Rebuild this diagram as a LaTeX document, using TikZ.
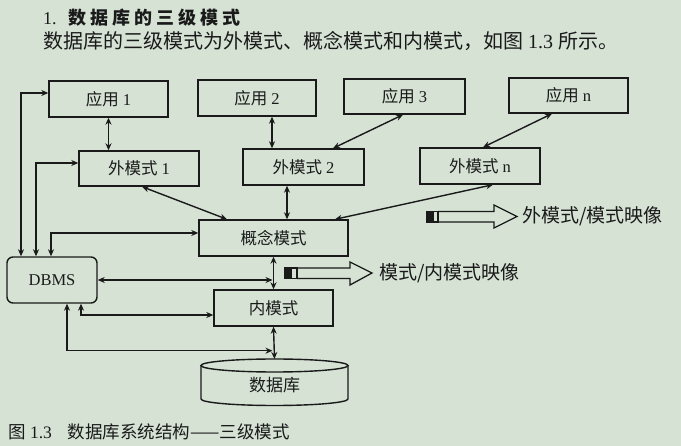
\documentclass[tikz,border=0pt]{standalone}
\usepackage{fontspec}
\setmainfont{Liberation Serif}
\newfontfamily\cjk{Noto Sans CJK SC}
\usetikzlibrary{arrows.meta}
\definecolor{bg}{HTML}{D5E2D4}
\definecolor{ink}{HTML}{1A1A1A}
\newcommand{\ts}{\hspace{4pt}}
\begin{document}
\begin{tikzpicture}[x=1pt,y=-1pt,
  box/.style={draw=ink,line width=1.4pt,inner sep=0pt,minimum height=36pt,minimum width=120pt,text=ink,font=\fontsize{16.5}{19}\selectfont},
  link/.style={draw=ink,line width=1.4pt,{Stealth[length=7pt,width=6pt]}-{Stealth[length=7pt,width=6pt]}},
  outl/.style={draw=ink,line width=1.3pt},
  lbl/.style={anchor=west,inner sep=0pt,text=ink}]
\fill[bg] (0,0) rectangle (681,446);
\useasboundingbox (0,0) rectangle (681,446);
% titles
\node[lbl,font=\fontsize{18}{20}\selectfont] (t1) at (43,18) {1.\hspace{12pt}{\cjk\bfseries 数\ts 据\ts 库\ts 的\ts 三\ts 级\ts 模\ts 式}};
\node[lbl,font=\fontsize{20}{24}\selectfont] (t2) at (43,41) {{\cjk 数据库的三级模式为外模式、概念模式和内模式，如图} 1.3 {\cjk 所示。}};
\node[lbl,font=\fontsize{17.5}{20}\selectfont] (cap) at (8,432) {{\cjk 图} 1.3\hspace{16pt}{\cjk 数据库系统结构——三级模式}};
% boxes
\node[box,minimum width=119pt] (app1) at (108.5,99) {{\cjk 应用} 1};
\node[box,minimum width=118pt] (app2) at (257,98) {{\cjk 应用} 2};
\node[box,minimum width=121pt,minimum height=35pt] (app3) at (404.5,96.5) {{\cjk 应用} 3};
\node[box,minimum width=119pt,minimum height=35pt] (appn) at (568.5,95.5) {{\cjk 应用} n};
\node[box,minimum width=120pt,minimum height=35pt] (ext1) at (139,168.5) {{\cjk 外模式} 1};
\node[box,minimum width=121pt] (ext2) at (303.5,167) {{\cjk 外模式} 2};
\node[box,minimum width=120pt] (extn) at (480,166) {{\cjk 外模式} n};
\node[box,minimum width=149pt] (concept) at (273.5,238) {\cjk 概念模式};
\node[box,minimum width=119pt] (inner) at (273.5,308) {\cjk 内模式};
\node[box,minimum width=90pt,minimum height=46pt,rounded corners=6pt] (dbms) at (52,280) {DBMS};
% database cylinder
\draw[outl,line width=1.4pt] (201,365.5) -- (201,399) arc[start angle=180,end angle=360,x radius=73.5pt,y radius=6.5pt] -- (348,365.5);
\draw[outl,line width=1.4pt] (274.5,365.5) ellipse [x radius=73.5pt,y radius=6.5pt];
\node[text=ink,font=\fontsize{17}{19}\selectfont] (db) at (274.5,385) {\cjk 数据库};
\coordinate (dbtop) at (274.5,359);
% connectors
\draw[link] (app1.south) -- (app1.south |- ext1.north);
\draw[link] ([xshift=15pt]app2.south) -- ([xshift=15pt]app2.south |- ext2.north);
\draw[link] ([xshift=-1.5pt]app3.south) -- ([xshift=29.5pt]ext2.north);
\draw[link] ([xshift=-16.5pt]appn.south) -- ([xshift=3pt]extn.north);
\draw[link] ([xshift=3pt]ext1.south) -- ([xshift=-46.5pt]concept.north);
\draw[link] ([xshift=-16.5pt]ext2.south) -- ([xshift=-16.5pt]ext2.south |- concept.north);
\draw[link] ([xshift=13pt]extn.south) -- ([xshift=61.5pt]concept.north);
\draw[link] (concept.south) -- (inner.north);
\draw[link] (inner.south) -- (dbtop);
\draw[link] (dbms.east) -- ([xshift=-1pt]concept.south |- dbms.east);
\draw[link] ([xshift=-31pt]dbms.north) |- ([yshift=6pt]app1.west);
\draw[link] ([xshift=-16pt]dbms.north) |- ([yshift=5.5pt]ext1.west);
\draw[link] ([xshift=-1pt]dbms.north) |- ([yshift=5pt]concept.west);
\draw[link] ([xshift=29pt]dbms.south) |- ([yshift=-7pt]inner.west);
\draw[link] ([xshift=15pt]dbms.south) |- ([xshift=-1pt,yshift=-24pt]inner.south);
% mapping arrows
\draw[outl,fill=ink] (427,211.5) rectangle (431.5,222);
\draw[outl] (433,211.5) rectangle (438,222);
\draw[outl] (438,211.5) -- (494,211.5) -- (494,205) -- (517,216.5) -- (494,228) -- (494,222) -- (438,222);
\node[lbl,font=\fontsize{19}{22}\selectfont] (m1) at (522,216.5) {\cjk 外模式/模式映像};
\draw[outl,fill=ink] (285,268) rectangle (290,278.5);
\draw[outl] (291.5,268) rectangle (297,278.5);
\draw[outl] (297,268) -- (350,268) -- (350,262) -- (372,273) -- (350,285) -- (350,278.5) -- (297,278.5);
\node[lbl,font=\fontsize{19}{22}\selectfont] (m2) at (379,273) {\cjk 模式/内模式映像};
\end{tikzpicture}
\end{document}
